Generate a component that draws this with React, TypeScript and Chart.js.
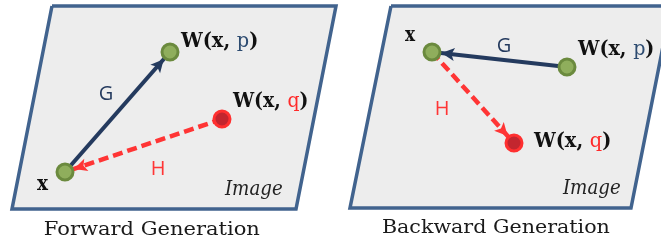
import { useEffect, useRef } from 'react';
import { Chart, registerables } from 'chart.js';

Chart.register(...registerables);

// ---- data ----
const panelTitles = ['Forward Generation', 'Backward Generation'];
const forwardPanelX = [52, 336, 296, 12, 52];
const forwardPanelY = [6, 6, 209, 209, 6];
const backwardPanelX = [391, 671, 631, 350, 391];
const backwardPanelY = [6, 6, 208, 208, 6];

const nodeNames = ['x', 'W(x, p)', 'W(x, q)'];
const forwardNodeX = [65, 170, 222];
const forwardNodeY = [172, 52, 119];
const backwardNodeX = [432, 567, 514];
const backwardNodeY = [52, 67, 143];

// arrows: [label, from node, to node]
const forwardArrows: [string, number, number][] = [['G', 0, 1], ['H', 2, 0]];
const backwardArrows: [string, number, number][] = [['G', 1, 0], ['H', 0, 2]];

// label anchors (left ink edge, baseline, ink width)
const forwardLabelX = [37, 180, 232];
const forwardLabelY = [190, 47, 107];
const forwardLabelW = [12, 77, 75];
const backwardLabelX = [405, 577, 533];
const backwardLabelY = [41, 55, 147];
const backwardLabelW = [11, 76, 77];

const arrowLabelX = [[106, 158], [504, 442]];
const arrowLabelY = [[100, 175], [52, 115]];

const imageLabelX = [224, 562];
const imageLabelY = [195, 194];
const titleX = [45, 383];
const titleY = [235, 233];
const titleW = [215, 227];

// ---- styles ----
const PANEL_FILL = '#ededed';
const PANEL_BORDER = '#41638e';
const NAVY = '#243a5e';
const RED = '#ff3535';
const TEXT = '#111111';
const P_COLOR = '#2d4b70';
const Q_COLOR = '#ff2a2a';
const SERIF = '"DejaVu Serif", "Liberation Serif", serif';
const SANS = '"Open Sans", "Noto Sans", sans-serif';

function pts(xs: number[], ys: number[]) {
  return xs.map((x, i) => ({ x, y: ys[i] }));
}

const textPlugin = {
  id: 'diagramText',
  afterDatasetsDraw(chart: any) {
    const ctx: CanvasRenderingContext2D = chart.ctx;
    const sx = chart.scales.x;
    const sy = chart.scales.y;
    ctx.save();
    // arrow heads
    chart.data.datasets.forEach((ds: any, i: number) => {
      if (!ds.arrowHead) return;
      const meta = chart.getDatasetMeta(i);
      const a = meta.data[0];
      const b = meta.data[1];
      const dx = b.x - a.x;
      const dy = b.y - a.y;
      const len = Math.hypot(dx, dy);
      const ux = dx / len;
      const uy = dy / len;
      const gap = 9.5;
      const hl = 13;
      const hw = 6.5;
      const tx = b.x - ux * gap;
      const ty = b.y - uy * gap;
      const bx = tx - ux * hl;
      const by = ty - uy * hl;
      ctx.fillStyle = ds.borderColor;
      ctx.beginPath();
      ctx.moveTo(tx, ty);
      ctx.lineTo(bx - uy * hw, by + ux * hw);
      ctx.lineTo(bx + ux * 3, by + uy * 3);
      ctx.lineTo(bx + uy * hw, by - ux * hw);
      ctx.closePath();
      ctx.fill();
    });

    ctx.textBaseline = 'alphabetic';
    ctx.textAlign = 'left';

    // draw text at a given font size, squeezed horizontally to the target ink width
    const drawFit = (text: string, x: number, y: number, w: number, font: string, color: string) => {
      ctx.font = font;
      const m = ctx.measureText(text);
      const ink = m.actualBoundingBoxLeft + m.actualBoundingBoxRight;
      const k = w / ink;
      ctx.save();
      ctx.translate(sx.getPixelForValue(x), sy.getPixelForValue(y));
      ctx.scale(k, 1);
      ctx.fillStyle = color;
      ctx.fillText(text, m.actualBoundingBoxLeft, 0);
      ctx.restore();
    };

    const drawRich = (name: string, x: number, y: number, w: number) => {
      const size = 20;
      const bold = `bold ${size}px ${SERIF}`;
      const isP = name.includes('p');
      const segs = [
        { t: 'W(x, ', f: bold, c: TEXT },
        { t: isP ? 'p' : 'q', f: `${size}px ${SERIF}`, c: isP ? P_COLOR : Q_COLOR },
        { t: ')', f: bold, c: TEXT },
      ];
      let total = 0;
      segs.forEach((g) => {
        ctx.font = g.f;
        total += ctx.measureText(g.t).width;
      });
      ctx.font = bold;
      const left = ctx.measureText('W').actualBoundingBoxLeft;
      const rm = ctx.measureText(')');
      total = total + left - (rm.width - rm.actualBoundingBoxRight);
      const k = w / total;
      ctx.save();
      ctx.translate(sx.getPixelForValue(x), sy.getPixelForValue(y));
      ctx.scale(k, 1);
      let px = left;
      segs.forEach((g) => {
        ctx.font = g.f;
        ctx.fillStyle = g.c;
        ctx.fillText(g.t, px, 0);
        px += ctx.measureText(g.t).width;
      });
      ctx.restore();
    };

    const panels = [
      { lx: forwardLabelX, ly: forwardLabelY, lw: forwardLabelW, arrows: forwardArrows },
      { lx: backwardLabelX, ly: backwardLabelY, lw: backwardLabelW, arrows: backwardArrows },
    ];
    panels.forEach((p, pi) => {
      nodeNames.forEach((n, ni) => {
        if (n === 'x') drawFit(n, p.lx[ni], p.ly[ni], p.lw[ni], `bold 20px ${SERIF}`, TEXT);
        else drawRich(n, p.lx[ni], p.ly[ni], p.lw[ni]);
      });
      p.arrows.forEach((a, ai) => {
        ctx.font = `20px ${SANS}`;
        ctx.fillStyle = a[0] === 'G' ? NAVY : RED;
        ctx.textAlign = 'center';
        ctx.fillText(a[0], sx.getPixelForValue(arrowLabelX[pi][ai]), sy.getPixelForValue(arrowLabelY[pi][ai]));
        ctx.textAlign = 'left';
      });
      drawFit('Image', imageLabelX[pi], imageLabelY[pi], 58, `italic 20px ${SERIF}`, '#222222');
      drawFit(panelTitles[pi], titleX[pi], titleY[pi], titleW[pi], `18.5px ${SERIF}`, '#1a1a1a');
    });
    ctx.restore();
  },
};

export default function App() {
  const ref = useRef<HTMLCanvasElement>(null);
  useEffect(() => {
    if (!ref.current) return;
    const arrowDs = (arrows: [string, number, number][], nx: number[], ny: number[]) =>
      arrows.map(([lab, f, t]) => ({
        data: [
          { x: nx[f], y: ny[f] },
          { x: nx[t], y: ny[t] },
        ],
        borderColor: lab === 'G' ? NAVY : RED,
        borderWidth: lab === 'G' ? 4 : 4.5,
        borderDash: lab === 'G' ? [] : [10, 5],
        pointRadius: 0,
        fill: false,
        order: 2,
        arrowHead: true,
      }));
    const nodeDs = (nx: number[], ny: number[]) => ({
      data: pts(nx, ny),
      showLine: false,
      pointRadius: 8,
      pointBorderWidth: 3,
      pointBackgroundColor: ['#8fae5c', '#8fae5c', '#c3262f'],
      pointBorderColor: ['#6b8a3e', '#6b8a3e', '#ff3030'],
      order: 1,
    });
    const panelDs = (xs: number[], ys: number[]) => ({
      data: pts(xs, ys),
      borderColor: PANEL_BORDER,
      backgroundColor: PANEL_FILL,
      borderWidth: 3.5,
      borderJoinStyle: 'miter',
      fill: 'shape',
      pointRadius: 0,
      order: 3,
    });
    const chart = new Chart(ref.current, {
      type: 'line',
      data: {
        datasets: [
          panelDs(forwardPanelX, forwardPanelY),
          panelDs(backwardPanelX, backwardPanelY),
          ...arrowDs(forwardArrows, forwardNodeX, forwardNodeY),
          ...arrowDs(backwardArrows, backwardNodeX, backwardNodeY),
          nodeDs(forwardNodeX, forwardNodeY),
          nodeDs(backwardNodeX, backwardNodeY),
        ] as any,
      },
      options: {
        animation: false,
        responsive: true,
        maintainAspectRatio: false,
        layout: { padding: 0, autoPadding: false },
        events: [],
        plugins: { legend: { display: false }, tooltip: { enabled: false } },
        scales: {
          x: { type: 'linear', min: 0, max: 661, display: false },
          y: { type: 'linear', min: 0, max: 244, reverse: true, display: false },
        },
      },
      plugins: [textPlugin],
    } as any);
    return () => chart.destroy();
  }, []);
  return (
    <div style={{ position: 'absolute', left: 0, top: 0, width: 661, height: 244, background: '#ffffff' }}>
      <canvas ref={ref} />
    </div>
  );
}
